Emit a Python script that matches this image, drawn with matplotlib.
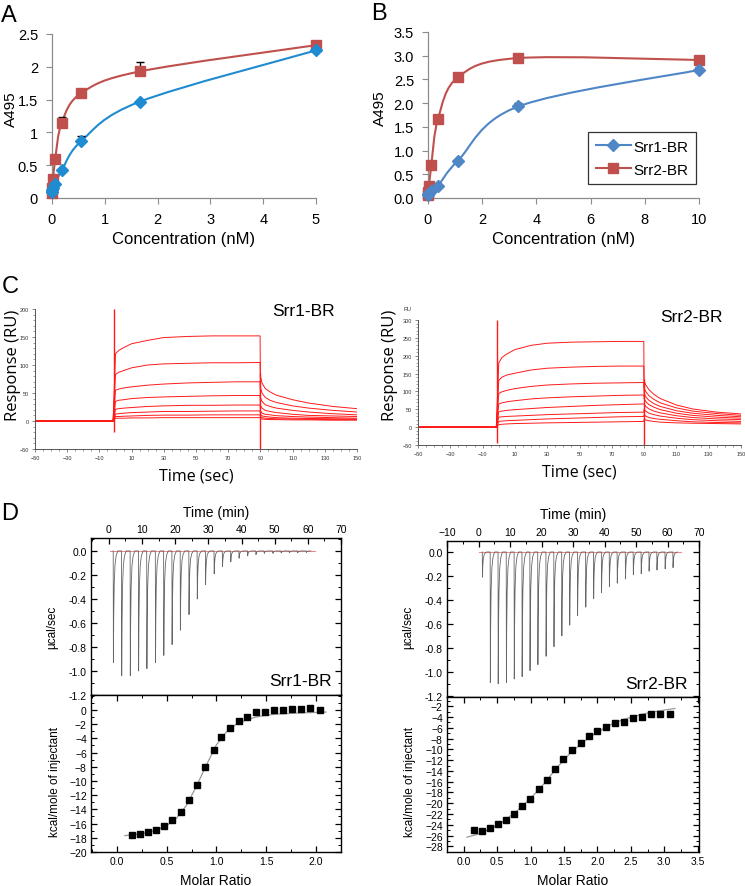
import numpy as np
import matplotlib
matplotlib.use("Agg")
import matplotlib.pyplot as plt
from matplotlib.path import Path
from matplotlib.patches import PathPatch
from matplotlib.lines import Line2D
from matplotlib.ticker import MultipleLocator

W, H = 745, 887

# ---- panel A / B : ELISA binding ----
conc_a = [0.0023, 0.0069, 0.021, 0.062, 0.185, 0.556, 1.667, 5.0]
a_srr1 = [0.09, 0.12, 0.16, 0.22, 0.42, 0.87, 1.47, 2.25]
a_srr1_err = [0, 0, 0, 0, 0, 0.07, 0, 0]
a_srr2 = [0.08, 0.16, 0.29, 0.60, 1.15, 1.60, 1.93, 2.33]
a_srr2_err = [0, 0, 0, 0, 0.09, 0, 0.15, 0]

conc_b = [0.0046, 0.0137, 0.041, 0.123, 0.37, 1.11, 3.33, 10.0]
b_srr1 = [0.06, 0.08, 0.11, 0.15, 0.26, 0.79, 1.93, 2.70]
b_srr1_err = [0, 0, 0, 0, 0, 0, 0.08, 0.07]
b_srr2 = [0.07, 0.13, 0.26, 0.70, 1.67, 2.55, 2.95, 2.91]
b_srr2_err = [0, 0, 0, 0, 0, 0, 0, 0]

# ---- panel C : SPR sensorgrams (RU) ----
spr_base_t = [-50, -1.5]
spr_assoc_t = [0, 2, 5, 10, 20, 30, 45, 60, 75, 89.8]
spr_dissoc_t = [90, 91, 93, 96, 100, 110, 120, 135, 150]

c1_assoc = [
    [120, 126, 131, 138, 144, 149, 151, 152, 152, 152],
    [83, 87, 90, 95, 100, 102, 103, 104, 104, 104.5],
    [55, 57, 59, 61, 64, 66, 68, 69, 70, 70],
    [35, 37, 38, 40, 42, 43, 44, 45, 45.5, 45.5],
    [21, 22, 23, 24, 26, 27, 28, 28, 28.5, 28.5],
    [12.5, 13, 14, 15, 16, 17, 17, 17.5, 18, 18],
    [8, 8, 8.5, 9, 10, 10.5, 10.5, 11, 11, 11],
    [5, 5, 5, 5.5, 5.5, 6, 6, 6, 6, 6],
]
c1_dissoc = [
    [80, 68, 58, 52, 46, 38, 32, 26, 22],
    [60, 50, 42, 37, 33, 27, 23, 19, 16],
    [42, 35, 29, 26, 23, 19, 16, 13, 11],
    [28, 23, 19, 17, 15, 12, 10, 9, 8],
    [18, 14, 12, 11, 9.5, 8, 7, 6, 5],
    [12, 9, 8, 7, 6, 5, 4.5, 4, 3.5],
    [8, 6, 5, 4.5, 4, 3.5, 3, 2.5, 2.5],
    [5, 3.5, 3, 2.5, 2.5, 2, 2, 1.5, 1.5],
]
c1_spike_t = [-1, 90]
c1_spike_lo = [-20, -50]
c1_spike_hi = [200, 85]

c2_assoc = [
    [180, 195, 205, 217, 229, 235, 238, 239, 240, 240],
    [131, 140, 146, 151, 160, 165, 168, 170, 171, 171],
    [94, 99, 103, 108, 114, 118, 121, 123, 124, 125],
    [65, 68, 71, 74, 79, 82, 85, 87, 89, 90],
    [43, 45, 47, 49, 52, 55, 58, 61, 63, 65],
    [28, 29, 30, 31, 33, 35, 37, 39, 41, 42],
    [16, 17, 18, 19, 21, 23, 25, 27, 29, 30],
    [7, 8, 9, 10, 11, 12, 13, 14, 15, 16],
]
c2_dissoc = [
    [130, 118, 105, 92, 80, 62, 51, 42, 37],
    [110, 100, 88, 78, 68, 54, 45, 38, 33],
    [95, 85, 75, 66, 58, 46, 39, 33, 29],
    [80, 72, 63, 56, 49, 39, 33, 28, 25],
    [65, 58, 51, 45, 40, 32, 27, 23, 21],
    [50, 45, 39, 35, 31, 25, 21, 18, 16],
    [35, 31, 27, 24, 22, 18, 15, 13, 12],
    [22, 20, 18, 16, 14, 12, 11, 10, 9],
]
c2_spike_t = [-1, 90]
c2_spike_lo = [-45, -50]
c2_spike_hi = [300, 135]

# ---- panel D : ITC ----
spike_dt = [0.0, 0.06, 0.15, 0.3, 0.55, 0.9, 1.4]
spike_frac = [0.0, 1.0, 0.6, 0.3, 0.12, 0.04, 0.0]

d1_inj_t = [1.3, 3.8, 6.4, 8.9, 11.4, 14.0, 16.5, 19.0, 21.5, 24.1, 26.6, 29.1,
            31.7, 34.2, 36.7, 39.2, 41.8, 44.3, 46.8, 49.4, 51.9, 54.4, 56.9, 59.5]
d1_depth = [0.93, 1.04, 1.04, 1.00, 0.98, 0.93, 0.87, 0.78, 0.66, 0.53, 0.40, 0.28,
            0.19, 0.13, 0.09, 0.06, 0.04, 0.03, 0.02, 0.02, 0.017, 0.015, 0.015, 0.012]
d1_base_t = [0.2, 62.1]

d2_inj_t = [1.2, 3.7, 6.2, 8.8, 11.3, 13.8, 16.3, 18.8, 21.4, 23.9, 26.4, 28.9, 31.4,
            34.0, 36.5, 39.0, 41.5, 44.0, 46.6, 49.1, 51.6, 54.1, 56.6, 59.2, 61.7]
d2_depth = [0.21, 1.09, 1.10, 1.09, 1.06, 1.04, 0.99, 0.94, 0.87, 0.79, 0.70, 0.61, 0.53,
            0.46, 0.39, 0.34, 0.29, 0.26, 0.225, 0.19, 0.18, 0.16, 0.15, 0.14, 0.13]
d2_base_t = [0.1, 64.2]

d1_ratio = [0.154, 0.23, 0.31, 0.39, 0.47, 0.55, 0.64, 0.72, 0.80, 0.885, 0.97, 1.05,
            1.14, 1.23, 1.31, 1.40, 1.49, 1.58, 1.67, 1.76, 1.85, 1.94, 2.04]
d1_heat = [-17.56, -17.4, -17.2, -16.9, -16.3, -15.5, -14.4, -12.7, -10.5, -8.06, -5.67,
           -3.88, -2.52, -1.58, -1.02, -0.36, -0.27, 0.0, -0.05, 0.14, 0.14, 0.23, 0.0]
d1_fit_x = [0.08, 0.2, 0.3, 0.4, 0.5, 0.6, 0.7, 0.8, 0.9, 1.0, 1.1, 1.2, 1.3, 1.4, 1.5,
            1.6, 1.8, 2.0, 2.1]
d1_fit_y = [-17.7, -17.5, -17.3, -16.9, -16.3, -15.2, -13.4, -10.7, -7.7, -4.9, -3.1,
            -2.0, -1.4, -1.0, -0.75, -0.6, -0.45, -0.35, -0.3]

d2_ratio = [0.154, 0.27, 0.39, 0.51, 0.63, 0.75, 0.875, 0.995, 1.12, 1.24, 1.36, 1.49,
            1.62, 1.75, 1.875, 2.0, 2.13, 2.27, 2.40, 2.53, 2.67, 2.80, 2.94, 3.08]
d2_heat = [-25.0, -25.2, -24.6, -23.9, -23.1, -22.0, -20.6, -19.15, -17.4, -15.6, -13.6,
           -11.85, -10.2, -8.75, -7.57, -6.64, -5.84, -5.16, -4.85, -4.23, -3.92, -3.36,
           -3.36, -3.36]
d2_fit_x = [0.05, 0.2, 0.4, 0.6, 0.8, 1.0, 1.2, 1.4, 1.6, 1.8, 2.0, 2.2, 2.4, 2.6, 2.8,
            3.0, 3.16]
d2_fit_y = [-26.3, -25.8, -24.8, -23.3, -21.4, -19.1, -16.4, -13.3, -10.6, -8.5, -6.8,
            -5.4, -4.4, -3.7, -3.1, -2.7, -2.4]

plt.rcParams["font.family"] = ["Liberation Sans", "DejaVu Sans"]

fig = plt.figure(figsize=(W / 100, H / 100), dpi=100)


def add_ax(l, t, r, b):
    return fig.add_axes([l / W, 1 - b / H, (r - l) / W, (b - t) / H])


def fig_xy(x, y):
    return x / W, 1 - y / H


def place_ylabel(ax, x, y):
    # centre of the y label at pixel (x, y)
    ax.yaxis.set_label_coords(*fig_xy(x, y), transform=fig.transFigure)
    ax.yaxis.label.set_va("center")


def excel_smooth(ax, x, y, color, lw=1.5):
    # smoothed line like the spreadsheet program: cubic bezier through each point
    pts = ax.transData.transform(np.column_stack([x, y]))
    n = len(pts)
    verts = [pts[0]]
    codes = [Path.MOVETO]
    for i in range(n - 1):
        p0 = pts[max(i - 1, 0)]
        p1 = pts[i]
        p2 = pts[i + 1]
        p3 = pts[min(i + 2, n - 1)]
        verts += [p1 + (p2 - p0) / 6, p2 - (p3 - p1) / 6, p2]
        codes += [Path.CURVE4] * 3
    verts = ax.transData.inverted().transform(np.array(verts))
    ax.add_patch(PathPatch(Path(verts, codes), fill=False, edgecolor=color, lw=lw,
                           zorder=2, clip_on=False))


def elisa_axes(ax):
    for s in ["top", "right"]:
        ax.spines[s].set_visible(False)
    for s in ["left", "bottom"]:
        ax.spines[s].set_color("#8c8c8c")
        ax.spines[s].set_linewidth(0.9)
    ax.tick_params(direction="out", length=4, color="#8c8c8c", labelsize=10.5, pad=6)


def elisa_series(ax, x, y, err, color, marker, ms):
    excel_smooth(ax, x, y, color)
    ax.errorbar(x, y, yerr=[np.zeros(len(err)), err], fmt="none", ecolor="black",
                elinewidth=1, capsize=3, zorder=2.5)
    ax.plot(x, y, ls="none", marker=marker, ms=ms, color=color, zorder=3, clip_on=False)


# ---------------- A ----------------
axA = add_ax(52, 35, 316, 199)
axA.set_xlim(0, 5)
axA.set_ylim(0, 2.5)
elisa_axes(axA)
axA.set_yticks([0, 0.5, 1, 1.5, 2, 2.5])
axA.set_yticklabels(["0", "0.5", "1", "1.5", "2", "2.5"])
axA.set_xticks([0, 1, 2, 3, 4, 5])
elisa_series(axA, conc_a, a_srr2, a_srr2_err, "#c0504d", "s", 7)
elisa_series(axA, conc_a, a_srr1, a_srr1_err, "#1f8bd0", "D", 6)
axA.set_xlabel("Concentration (nM)", fontsize=12, labelpad=4)
axA.set_ylabel("A495", fontsize=11)
place_ylabel(axA, 11, 109)

# ---------------- B ----------------
axB = add_ax(428, 33, 699, 199)
axB.set_xlim(0, 10)
axB.set_ylim(0, 3.5)
elisa_axes(axB)
axB.set_yticks(np.arange(0, 3.51, 0.5))
axB.set_yticklabels(["%.1f" % v for v in np.arange(0, 3.51, 0.5)])
axB.set_xticks([0, 2, 4, 6, 8, 10])
elisa_series(axB, conc_b, b_srr2, b_srr2_err, "#c0504d", "s", 7)
elisa_series(axB, conc_b, b_srr1, b_srr1_err, "#4f86c6", "D", 6)
axB.set_xlabel("Concentration (nM)", fontsize=12, labelpad=4)
axB.set_ylabel("A495", fontsize=11)
place_ylabel(axB, 380, 108)
handles = [
    Line2D([], [], color="#4f86c6", lw=1.5, marker="D", ms=6),
    Line2D([], [], color="#c0504d", lw=1.5, marker="s", ms=7),
]
leg = axB.legend(handles, ["Srr1-BR", "Srr2-BR"], loc="lower right",
                 bbox_to_anchor=fig_xy(704, 193), bbox_transform=fig.transFigure,
                 fontsize=11, frameon=True, fancybox=False, handlelength=2.3,
                 borderpad=0.5, labelspacing=0.6, handletextpad=0.2)
leg.get_frame().set_edgecolor("black")
leg.get_frame().set_linewidth(0.9)


# ---------------- C ----------------
def spr_axes(ax, ylim, ystep):
    ax.set_xlim(-50, 150)
    ax.set_ylim(*ylim)
    for s in ["top", "right"]:
        ax.spines[s].set_visible(False)
    for s in ["left", "bottom"]:
        ax.spines[s].set_color("#555555")
        ax.spines[s].set_linewidth(0.7)
    ax.set_xticks(np.arange(-50, 151, 20))
    ax.xaxis.set_minor_locator(MultipleLocator(5))
    ax.set_yticks(np.arange(ylim[0], ylim[1] + 1, ystep))
    ax.yaxis.set_minor_locator(MultipleLocator(10))
    ax.tick_params(which="major", length=2.5, width=0.5, color="#555555",
                   labelsize=4, labelcolor="#333333", pad=2)
    ax.tick_params(which="minor", length=1.5, width=0.4, color="#555555")


def spr_traces(ax, assoc, dissoc, sp_t, sp_lo, sp_hi):
    for a, d in zip(assoc, dissoc):
        t = spr_base_t + spr_assoc_t + spr_dissoc_t
        v = [0, 0] + a + d
        ax.plot(t, v, color="#ff1a1a", lw=0.7)
    ax.vlines(sp_t, sp_lo, sp_hi, color="#ff1a1a", lw=1.0, clip_on=True)


axC1 = add_ax(35, 310, 357, 450)
spr_axes(axC1, (-50, 200), 50)
spr_traces(axC1, c1_assoc, c1_dissoc, c1_spike_t, c1_spike_lo, c1_spike_hi)
axC1.set_xlabel("Time (sec)", fontsize=11.5, family="Open Sans", labelpad=5)
axC1.set_ylabel("Response (RU)", fontsize=12, family="Open Sans")
place_ylabel(axC1, 13, 365)
fig.text(*fig_xy(335, 312), "Srr1-BR", fontsize=12.5, ha="right", va="center")

axC2 = add_ax(418, 321, 741, 446)
spr_axes(axC2, (-50, 300), 50)
spr_traces(axC2, c2_assoc, c2_dissoc, c2_spike_t, c2_spike_lo, c2_spike_hi)
axC2.set_xlabel("Time (sec)", fontsize=11.5, family="Open Sans", labelpad=5)
axC2.set_ylabel("Response (RU)", fontsize=12, family="Open Sans")
place_ylabel(axC2, 390, 365)
fig.text(*fig_xy(407, 310), "RU", fontsize=4, ha="center", va="center", color="#333333")
fig.text(*fig_xy(723, 318), "Srr2-BR", fontsize=12.5, ha="right", va="center")


# ---------------- D ----------------
def itc_style(ax):
    for s in ax.spines.values():
        s.set_linewidth(1.0)
    ax.tick_params(which="both", direction="in", top=True, right=True,
                   labelsize=7.5, pad=3)
    ax.tick_params(which="major", length=4, width=0.9)
    ax.tick_params(which="minor", length=2, width=0.7)


def itc_trace(times, depths):
    t, v = [], []
    for t0, d in zip(times, depths):
        for dt, f in zip(spike_dt, spike_frac):
            t.append(t0 + dt)
            v.append(-d * f)
    return t, v


def itc_top(ax, xlim, ylim, xticks, inj_t, depth, base_t):
    ax.set_xlim(*xlim)
    ax.set_ylim(*ylim)
    itc_style(ax)
    ax.xaxis.tick_top()
    ax.tick_params(which="both", top=True, bottom=False, labeltop=True, labelbottom=False)
    ax.set_xticks(xticks)
    ax.xaxis.set_minor_locator(MultipleLocator(5))
    ax.set_yticks(np.arange(0, -1.21, -0.2))
    ax.set_yticklabels(["%.1f" % v for v in np.arange(0, -1.21, -0.2)])
    ax.yaxis.set_minor_locator(MultipleLocator(0.1))
    ax.plot(base_t, [0, 0], color="#f08a8a", lw=0.8, zorder=1)
    t, v = itc_trace(inj_t, depth)
    ax.plot(t, v, color="#666666", lw=0.6, zorder=2)
    ax.xaxis.set_label_position("top")
    ax.set_xlabel("Time (min)", fontsize=10, labelpad=6)
    ax.set_ylabel("µcal/sec", fontsize=8.5)


def itc_bottom(ax, xlim, ylim, xticks, yticks, x, y, fx, fy):
    ax.set_xlim(*xlim)
    ax.set_ylim(*ylim)
    itc_style(ax)
    ax.set_xticks(xticks)
    ax.set_xticklabels(["%.1f" % v for v in xticks])
    ax.xaxis.set_minor_locator(MultipleLocator(0.25))
    ax.set_yticks(yticks)
    ax.yaxis.set_minor_locator(MultipleLocator(1))
    ax.plot(fx, fy, color="#9a9a9a", lw=0.9, zorder=1)
    ax.plot(x, y, ls="none", marker="s", ms=5, color="black", zorder=2)
    ax.set_xlabel("Molar Ratio", fontsize=10, labelpad=5)
    ax.set_ylabel("kcal/mole of injectant", fontsize=8.5)


axD1t = add_ax(91, 539, 341, 696)
itc_top(axD1t, (-5.4, 70), (-1.2, 0.108), np.arange(0, 71, 10), d1_inj_t, d1_depth, d1_base_t)
place_ylabel(axD1t, 52, 627)
axD1t.text(*fig_xy(332, 681), "Srr1-BR", transform=fig.transFigure, fontsize=12.5,
           ha="right", va="center")

axD1b = add_ax(91, 696, 341, 853)
itc_bottom(axD1b, (-0.26, 2.25), (-20, 2.1), [0.0, 0.5, 1.0, 1.5, 2.0],
           np.arange(0, -20.1, -2), d1_ratio, d1_heat, d1_fit_x, d1_fit_y)
place_ylabel(axD1b, 55, 782)

axD2t = add_ax(447, 542, 699, 698)
itc_top(axD2t, (-10, 70), (-1.21, 0.092), np.arange(-10, 71, 10), d2_inj_t, d2_depth, d2_base_t)
place_ylabel(axD2t, 408, 627)
axD2t.text(*fig_xy(688, 685), "Srr2-BR", transform=fig.transFigure, fontsize=12.5,
           ha="right", va="center")

axD2b = add_ax(447, 698, 699, 853)
itc_bottom(axD2b, (-0.25, 3.52), (-29.05, -0.27), [0.0, 0.5, 1.0, 1.5, 2.0, 2.5, 3.0, 3.5],
           np.arange(-2, -28.1, -2), d2_ratio, d2_heat, d2_fit_x, d2_fit_y)
place_ylabel(axD2b, 410, 782)

# panel letters
for letter, (px, py) in zip("ABCD", [(9, 16), (379, 14), (10, 287), (10, 514)]):
    fig.text(*fig_xy(px, py), letter, fontsize=17, ha="center", va="center")

fig.savefig("out.png", dpi=100)
